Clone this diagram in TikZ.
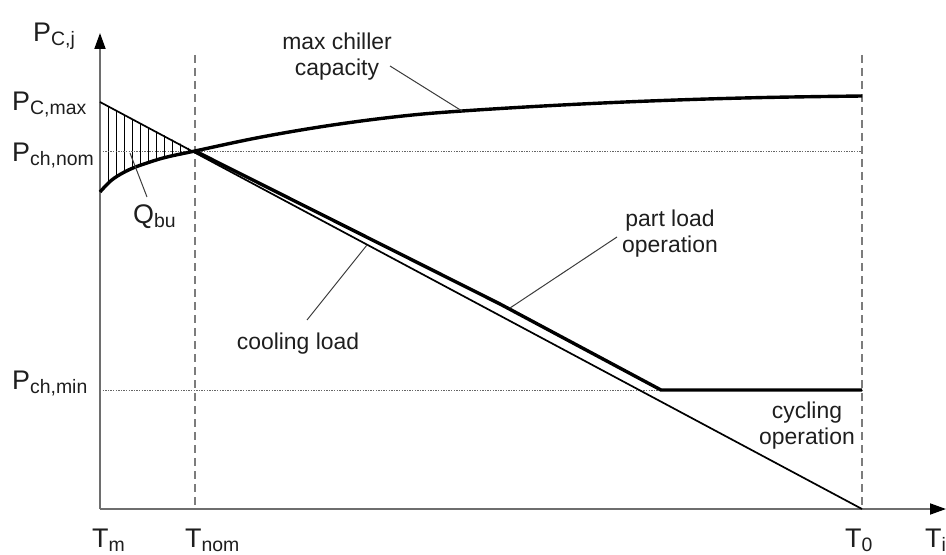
\documentclass[tikz,border=0pt]{standalone}
\usepackage{fontspec}
\setmainfont{Liberation Sans}
\usetikzlibrary{arrows.meta}
\definecolor{axisgray}{HTML}{6E6E6E}
\definecolor{dashgray}{HTML}{7C7C7C}
\definecolor{dotgray}{HTML}{666666}
\definecolor{leadgray}{HTML}{3C3C3C}
\definecolor{textgray}{HTML}{1E1E1E}
% axis symbol with lowered subscript
\newcommand\axsym[2]{{\fontsize{27}{27}\selectfont #1}\raisebox{-4bp}{\fontsize{19.5}{19.5}\selectfont #2}}
\begin{document}
\begin{tikzpicture}[x=1bp,y=-1bp,
  axis/.style={draw=axisgray, line width=1.8bp,
    -{Triangle[length=16bp,width=11bp,color=black]}},
  guide/.style={draw=dashgray, line width=1.8bp, dash pattern=on 8bp off 5bp},
  level/.style={draw=dotgray, line width=1bp, dash pattern=on 1.4bp off 1.2bp},
  thin/.style={draw=black, line width=1.7bp},
  thick/.style={draw=black, line width=3.4bp, line join=miter},
  hatch/.style={draw=black, line width=0.9bp},
  leader/.style={draw=leadgray, line width=1bp},
  axlabel/.style={inner sep=0pt, anchor=base west, text=textgray},
  note/.style={inner sep=0pt, anchor=base, text=textgray,
    font=\fontsize{23}{26}\selectfont}]
\useasboundingbox (0,0) rectangle (946,555);

% key points
\coordinate (O) at (100,509);
\coordinate (ytop) at (100,33);
\coordinate (xend) at (946,509);
\coordinate (nomTop) at (195,55);
\coordinate (nomBot) at (195,509);
\coordinate (zeroTop) at (862,55);
\coordinate (zero) at (862,509);
\coordinate (loadStart) at (100,102);
\coordinate (cross) at (195,151);
\coordinate (partMid) at (500,304);
\coordinate (bend) at (661,390);
\coordinate (minEnd) at (862,390);
\coordinate (nomL) at (100,152);
\coordinate (nomR) at (862,152);
\coordinate (minL) at (100,390);

% back-up cooling area (hatched)
\begin{scope}
  \clip (loadStart) -- (cross) -- plot[smooth, tension=0.6] coordinates
    {(195,151) (167,157) (150,162) (133,168) (120,174.5) (110,181.5) (100,192)} -- cycle;
  \foreach \x in {100,108,...,196} \draw[hatch] (\x,90) -- (\x,200);
\end{scope}

% reference levels and temperatures
\draw[level] (nomL) -- (nomR);
\draw[level] (minL) -- (minEnd);
\draw[guide] (nomTop) -- (nomBot);
\draw[guide] (zeroTop) -- (zero);

% axes
\draw[axis] (O) -- (ytop);
\draw[axis] (O) -- (xend);

% cooling load
\draw[thin] (loadStart) -- (zero);

% max chiller capacity
\draw[thick] plot[smooth, tension=0.6] coordinates
  {(100,192) (110,181.5) (120,174.5) (133,168) (150,162) (167,157) (195,151)
   (260,137.3) (330,125.4) (400,116.3) (462,111) (560,105.1) (660,100.6)
   (760,97.6) (862,96)};

% part load and cycling operation
\draw[thick] (cross) -- (partMid) -- (bend) -- (minEnd);

% leaders
\coordinate (capOn) at (462,111);
\coordinate (capOff) at (390,66);
\coordinate (qOn) at (130,153);
\coordinate (qOff) at (147,197);
\coordinate (coolOn) at (367,245);
\coordinate (coolOff) at (307,320);
\coordinate (partOn) at (510,308);
\coordinate (partOff) at (617,237);
\draw[leader] (capOn) -- (capOff);
\draw[leader] (qOn) -- (qOff);
\draw[leader] (coolOn) -- (coolOff);
\draw[leader] (partOn) -- (partOff);

% curve notes
\node[note] (capA) at (337,50) {max chiller};
\node[note] (capB) at (337,76) {capacity};
\node[note] (partA) at (670,227) {part load};
\node[note] (partB) at (670,253) {operation};
\node[note] (cool) at (298,350) {cooling load};
\node[note] (cycA) at (807,418) {cycling};
\node[note] (cycB) at (807,444) {operation};
\node[axlabel] (qbu) at (133,224) {\axsym{Q}{bu}};

% axis labels
\node[axlabel] (pcj) at (33,42) {\axsym{P}{C,j}};
\node[axlabel] (pcmax) at (12,111) {\axsym{P}{C,max}};
\node[axlabel] (pnom) at (12,162) {\axsym{P}{ch,nom}};
\node[axlabel] (pmin) at (12,389) {\axsym{P}{ch,min}};
\node[axlabel] (tm) at (92,547) {\axsym{T}{m}};
\node[axlabel] (tnom) at (185,547) {\axsym{T}{nom}};
\node[axlabel] (tzero) at (845,547) {\axsym{T}{0}};
\node[axlabel] (ti) at (925,547) {\axsym{T}{i}};
\end{tikzpicture}
\end{document}
